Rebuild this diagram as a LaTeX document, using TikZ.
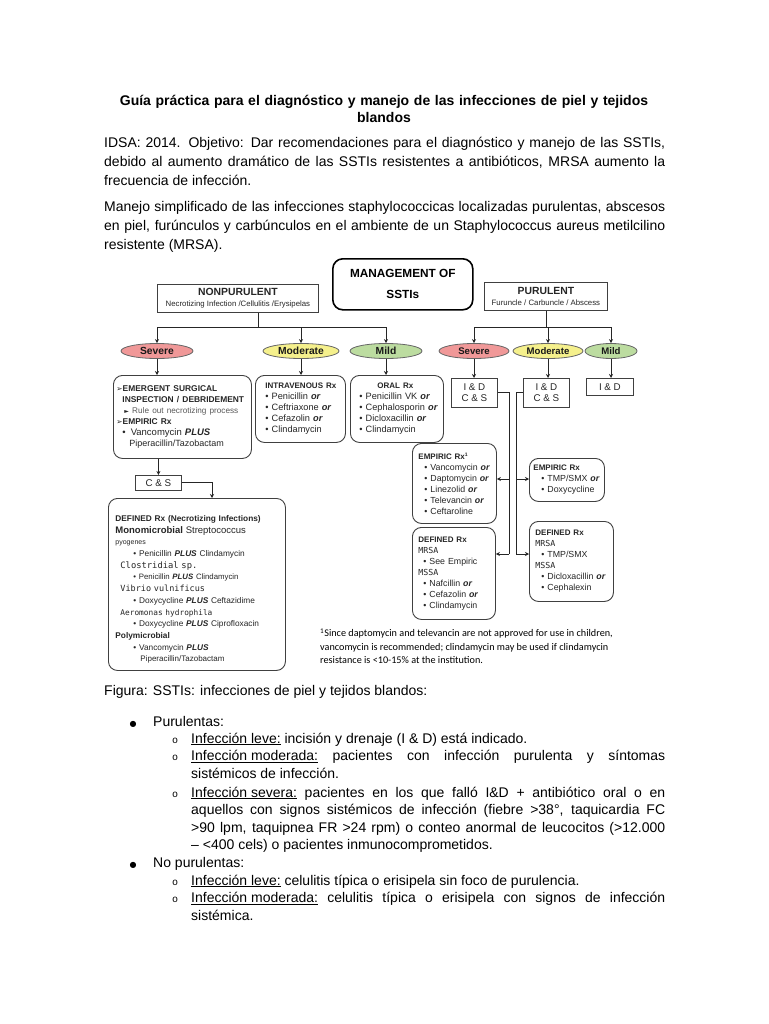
\documentclass[tikz,border=0pt]{standalone}
\usepackage{fontspec}
\setmainfont{Liberation Sans}
\newfontfamily\symf{DejaVu Sans}
\newfontfamily\monof{DejaVu Sans Mono}
\newfontfamily\fnotef{Carlito}
\newfontfamily\courf{Liberation Mono}
\usetikzlibrary{shapes.geometric,arrows.meta}
\definecolor{sevcol}{RGB}{240,152,152}
\definecolor{modcol}{RGB}{245,240,140}
\definecolor{mildcol}{RGB}{188,220,160}
\newcommand{\bor}{\textbf{\textit{or}}}
\newcommand{\bplus}{\textbf{\textit{PLUS}}}
\newcommand{\hdg}[1]{{\bfseries\fontsize{8}{11}\selectfont #1}}
\newcommand{\hdgb}[1]{\mbox{\bfseries\fontsize{8.4}{11}\selectfont #1}}
\newcommand{\tri}{{\symf\fontsize{7.5}{10}\selectfont ➢}}
\newcommand{\msa}[1]{{\monof\fontsize{8.3}{11}\selectfont #1}}
\tikzset{
  rbox/.style={draw=black!75, line width=0.9pt, rounded corners=9pt, anchor=north west,
    inner xsep=4pt, inner ysep=0pt, align=left, font=\fontsize{8.8}{11}\selectfont, text=black!85},
  sbox/.style={draw=black!75, line width=0.8pt, anchor=north west, inner sep=0pt,
    align=center, font=\fontsize{9.8}{11.5}\selectfont, text=black!85},
  ell/.style={ellipse, draw=black!60, line width=0.8pt, minimum height=15pt, inner sep=0pt,
    font=\bfseries\fontsize{10.3}{10}\selectfont, text=black!90},
  ellr/.style={ell, font=\bfseries\fontsize{9.6}{10}\selectfont},
  conn/.style={line width=1pt, draw=black!85},
  arr/.style={conn, -{Stealth[length=4pt,width=4pt]}},
  body/.style={inner sep=0pt, font=\fontsize{14}{19}\selectfont},
  item/.style={anchor=north west, inner sep=0pt, text width=474pt, align=justify, font=\fontsize{14}{17.6}\selectfont},
  subb/.style={anchor=base, inner sep=0pt, font=\courf\fontsize{10}{12}\selectfont},
  bigb/.style={anchor=base, inner sep=0pt, font=\symf\fontsize{8}{10}\selectfont},
}
\begin{document}
\begin{tikzpicture}[x=1pt,y=-1pt]
\fill[white] (0,0) rectangle (768,1024);
\useasboundingbox (0,0) rectangle (768,1024);

% ---------- header text ----------
\node[anchor=north, inner sep=0pt, text width=561pt, align=center, font=\bfseries\fontsize{14}{17}\selectfont] (title) at (384,93.6)
  {\strut Guía práctica para el diagnóstico y manejo de las infecciones de piel y tejidos\\blandos};
\node[body, anchor=north west, text width=561pt, align=justify] (p1) at (104,134.2)
  {\strut IDSA: 2014. Objetivo: Dar recomendaciones para el diagnóstico y manejo de las SSTIs,\linebreak
   debido al aumento dramático de las SSTIs resistentes a antibióticos, MRSA aumento la\linebreak
   frecuencia de infección.};
\node[body, anchor=north west, text width=561pt, align=justify] (p2) at (104,198.2)
  {\strut Manejo simplificado de las infecciones staphylococcicas localizadas purulentas, abscesos\linebreak
   en piel, furúnculos y carbúnculos en el ambiente de un Staphylococcus aureus metilcilino\linebreak
   resistente (MRSA).};

% ---------- diagram: top ----------
\node[draw=black, line width=1.6pt, rounded corners=10pt, anchor=north west, minimum width=140pt, minimum height=51pt,
  inner sep=0pt, align=center, font=\bfseries\fontsize{11.8}{21}\selectfont] (mgmt) at (332,258) {MANAGEMENT OF\\SSTIs};
\node[sbox, minimum width=161pt, minimum height=28pt] (nonp) at (157,284)
  {{\bfseries\fontsize{10.4}{12}\selectfont NONPURULENT}\\{\fontsize{7.8}{9}\selectfont Necrotizing Infection /Cellulitis /Erysipelas}};
\node[sbox, minimum width=123pt, minimum height=28pt] (pur) at (484,282)
  {{\bfseries\fontsize{10.4}{12}\selectfont PURULENT}\\{\fontsize{7.8}{9}\selectfont Furuncle / Carbuncle / Abscess}};

\node[ell, fill=sevcol, minimum width=72pt] (sevL) at (157,351) {Severe};
\node[ell, fill=modcol, minimum width=76pt] (modL) at (301,351) {Moderate};
\node[ell, fill=mildcol, minimum width=72pt] (mildL) at (386,351) {Mild};
\node[ellr, fill=sevcol, minimum width=70pt] (sevR) at (474,351) {Severe};
\node[ellr, fill=modcol, minimum width=70pt] (modR) at (548,351) {Moderate};
\node[ellr, fill=mildcol, minimum width=52pt] (mildR) at (611,351) {Mild};

\coordinate (jL) at (258,327);
\coordinate (jR) at (546,327);
\draw[conn] (nonp.south -| jL) -- (jL);
\draw[conn] (sevL.north |- jL) -- (mildL.north |- jL);
\foreach \n in {sevL,modL,mildL} \draw[arr] (\n.north |- jL) -- (\n.north);
\draw[conn] (pur.south -| jR) -- (jR);
\draw[conn] (sevR.north |- jR) -- (mildR.north |- jR);
\foreach \n in {sevR,modR,mildR} \draw[arr] (\n.north |- jR) -- (\n.north);

% ---------- nonpurulent boxes ----------
\node[rbox, inner xsep=3pt, minimum height=83pt, text width=132pt, font=\fontsize{9.5}{11}\selectfont] (sevB) at (113,375)
  {\tri\hdgb{EMERGENT SURGICAL}\\
   \hspace*{6pt}\hdgb{INSPECTION / DEBRIDEMENT}\\
   \hspace*{8pt}{\symf\fontsize{6}{10}\selectfont ►} {\color{black!65}\fontsize{8.2}{10}\selectfont Rule out necrotizing process}\\
   \tri\hdgb{EMPIRIC Rx}\\
   \hspace*{6pt}•\hspace*{5pt}Vancomycin \bplus\\
   \hspace*{13pt}{\fontsize{9}{10}\selectfont Piperacillin/Tazobactam}};
\node[rbox, minimum height=67pt, text width=82pt, font=\fontsize{9.2}{11}\selectfont] (ivB) at (255,375)
  {\hspace*{6pt}\hdg{INTRAVENOUS Rx}\\
   \hspace*{6pt}• Penicillin \bor\\
   \hspace*{6pt}• Ceftriaxone \bor\\
   \hspace*{6pt}• Cefazolin \bor\\
   \hspace*{6pt}• Clindamycin};
\node[rbox, minimum height=67pt, text width=85pt, font=\fontsize{9.2}{11}\selectfont] (oralB) at (350,375)
  {\hspace*{23pt}\hdg{ORAL Rx}\\
   \hspace*{5pt}• Penicillin VK \bor\\
   \hspace*{5pt}• Cephalosporin \bor\\
   \hspace*{5pt}• Dicloxacillin \bor\\
   \hspace*{5pt}• Clindamycin};
\draw[arr] (sevL.south) -- (sevL.south |- sevB.north);
\draw[arr] (modL.south) -- (modL.south |- ivB.north);
\draw[arr] (mildL.south) -- (mildL.south |- oralB.north);

\node[sbox, minimum width=46pt, minimum height=15pt] (cs) at (135,475) {C \& S};
\draw[arr] (sevB.south -| cs.north) -- (cs.north);

\node[rbox, inner xsep=7pt, minimum height=172pt, text width=163pt, font=\fontsize{8.3}{11.7}\selectfont] (defN) at (108,498)
  {\rule{0pt}{16pt}{\bfseries\fontsize{8.3}{11.7}\selectfont DEFINED Rx (Necrotizing Infections)}\\
   {\bfseries\fontsize{9.5}{11.7}\selectfont Monomicrobial} {\fontsize{9.5}{11.7}\selectfont Streptococcus}\\
   {\fontsize{7}{11.7}\selectfont pyogenes}\\
   \hspace*{18pt}• Penicillin \bplus\ Clindamycin\\
   \hspace*{5pt}{\monof\fontsize{8.8}{11.7}\selectfont Clostridial sp.}\\
   \hspace*{18pt}{\fontsize{7.8}{11.7}\selectfont • Penicillin \bplus\ Clindamycin}\\
   \hspace*{5pt}{\monof\fontsize{8.5}{11.7}\selectfont Vibrio vulnificus}\\
   \hspace*{18pt}• Doxycycline \bplus\ Ceftazidime\\
   \hspace*{5pt}{\monof\fontsize{7.8}{11.7}\selectfont Aeromonas hydrophila}\\
   \hspace*{18pt}• Doxycycline \bplus\ Ciprofloxacin\\
   {\bfseries\fontsize{8.3}{11.7}\selectfont Polymicrobial}\\
   \hspace*{18pt}• Vancomycin \bplus\\
   \hspace*{25pt}{\fontsize{8}{11.7}\selectfont Piperacillin/Tazobactam}};
\coordinate (kN) at (212,483);
\draw[arr] (cs.east) -| (kN |- defN.north);

% ---------- purulent boxes ----------
\node[sbox, minimum width=46pt, minimum height=29pt] (id1) at (451,378) {I \& D\\C \& S};
\node[sbox, minimum width=46pt, minimum height=29pt] (id2) at (523,378) {I \& D\\C \& S};
\node[sbox, minimum width=47pt, minimum height=17pt] (id3) at (586,378) {I \& D};
\draw[arr] (sevR.south) -- (sevR.south |- id1.north);
\draw[arr] (modR.south) -- (modR.south |- id2.north);
\draw[arr] (mildR.south) -- (mildR.south |- id3.north);

\node[rbox, minimum height=80pt, text width=76pt] (empL) at (412,443)
  {\hspace*{2pt}\hdg{EMPIRIC Rx{\fontsize{5}{6}\selectfont\raisebox{3pt}{1}}}\\
   \hspace*{8pt}• Vancomycin \bor\\
   \hspace*{8pt}• Daptomycin \bor\\
   \hspace*{8pt}• Linezolid \bor\\
   \hspace*{8pt}• Televancin \bor\\
   \hspace*{8pt}• Ceftaroline};
\node[rbox, minimum height=43pt, text width=67pt] (empR) at (529,458)
  {\hdg{EMPIRIC Rx}\\
   \hspace*{8pt}• TMP/SMX \bor\\
   \hspace*{8pt}• Doxycycline};
\node[rbox, minimum height=92pt, text width=75pt] (defL) at (412,527)
  {\hspace*{2pt}\hdg{DEFINED Rx}\\
   \hspace*{2pt}\msa{MRSA}\\
   \hspace*{7pt}• See Empiric\\
   \hspace*{2pt}\msa{MSSA}\\
   \hspace*{7pt}• Nafcillin \bor\\
   \hspace*{7pt}• Cefazolin \bor\\
   \hspace*{7pt}• Clindamycin};
\node[rbox, minimum height=80pt, text width=76pt] (defR) at (529,521)
  {\hspace*{2pt}\hdg{DEFINED Rx}\\
   \hspace*{2pt}\msa{MRSA}\\
   \hspace*{8pt}• TMP/SMX\\
   \hspace*{2pt}\msa{MSSA}\\
   \hspace*{8pt}• Dicloxacillin \bor\\
   \hspace*{8pt}• Cephalexin};

\coordinate (vL) at (509,554);
\coordinate (vR) at (516,554);
\coordinate (aE) at (509,479);
\draw[conn] (id1.east) -| (vL);
\draw[arr] (aE) -- (aE -| empL.east);
\draw[arr] (vL) -- (vL -| defL.east);
\draw[conn] (id2.west) -| (vR);
\draw[arr] (vR |- aE) -- (aE -| empR.west);
\draw[arr] (vR) -- (vR -| defR.west);

\node[anchor=north west, inner sep=0pt, align=left, font=\fnotef\fontsize{10.2}{13.5}\selectfont] (fnote) at (320,627)
  {\strut\textsuperscript{1}Since daptomycin and televancin are not approved for use in children,\\
   vancomycin is recommended; clindamycin may be used if clindamycin\\
   resistance is <10-15\% at the institution.};

% ---------- lower text ----------
\node[body, anchor=base west] (fig) at (104,695.5) {Figura: SSTIs: infecciones de piel y tejidos blandos:};

\node[bigb] (b1) at (133,726.5) {●};
\node[body, anchor=base west] (pu) at (153,726.5) {Purulentas:};
\node[subb] (s1) at (175,743) {o};
\node[item] (i1) at (191,730.6) {\strut\underline{Infección leve:} incisión y drenaje (I \& D) está indicado.};
\node[subb] (s2) at (175,760.8) {o};
\node[item] (i2) at (191,748.4) {\strut\underline{Infección moderada:} pacientes con infección purulenta y síntomas\linebreak
  sistémicos de infección.};
\node[subb] (s3) at (175,797) {o};
\node[item] (i3) at (191,784.6) {\strut\underline{Infección severa:} pacientes en los que falló I\&D + antibiótico oral o en\linebreak
  aquellos con signos sistémicos de infección (fiebre >38°, taquicardia FC\linebreak
  >90 lpm, taquipnea FR >24 rpm) o conteo anormal de leucocitos (>12.000\linebreak
  – <400 cels) o pacientes inmunocomprometidos.};
\node[bigb] (b2) at (133,867.4) {●};
\node[body, anchor=base west] (npu) at (153,867.4) {No purulentas:};
\node[subb] (s4) at (175,885) {o};
\node[item] (i4) at (191,872.6) {\strut\underline{Infección leve:} celulitis típica o erisipela sin foco de purulencia.};
\node[subb] (s5) at (175,902.6) {o};
\node[item] (i5) at (191,890.2) {\strut\underline{Infección moderada:} celulitis típica o erisipela con signos de infección\linebreak
  sistémica.};
\end{tikzpicture}
\end{document}
